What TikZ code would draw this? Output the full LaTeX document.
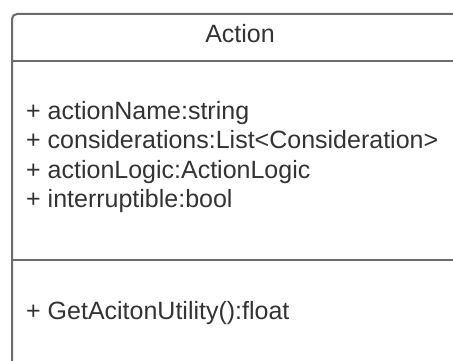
\documentclass[tikz,border=0pt]{standalone}
\usepackage{fontspec}
\setmainfont{Liberation Sans}
\definecolor{umlline}{HTML}{6B6B6B}
\definecolor{umltext}{HTML}{333333}
\tikzset{
  umlbox/.style={draw=umlline, line width=2pt},
  member/.style={anchor=base west, inner sep=0pt, text=umltext, font=\fontsize{25}{29}\selectfont},
  classname/.style={anchor=base, inner sep=0pt, text=umltext, font=\fontsize{25}{29}\selectfont},
}
\begin{document}
\begin{tikzpicture}[x=1pt, y=-1pt]
  \useasboundingbox[fill=white] (0,0) rectangle (453,361);
  % class frame, running past the right and bottom edges
  \begin{scope}
    \clip (0,0) rectangle (453,361);
    \draw[umlbox, rounded corners=5pt] (12,380) -- (12,14) -- (480,14);
    \draw[umlbox] (12,61.5) -- (480,61.5);
    \draw[umlbox] (12,260) -- (480,260);
  \end{scope}
  % class name
  \node[classname] (title) at (240,43) {Action};
  % attributes
  \node[member] (attr1) at (26,120) {+ actionName:string};
  \node[member] (attr2) at (26,149) {+ considerations:List<Consideration>};
  \node[member] (attr3) at (26,178) {+ actionLogic:ActionLogic};
  \node[member] (attr4) at (26,207) {+ interruptible:bool};
  % operations
  \node[member] (op1) at (26,319) {+ GetAcitonUtility():float};
\end{tikzpicture}
\end{document}
